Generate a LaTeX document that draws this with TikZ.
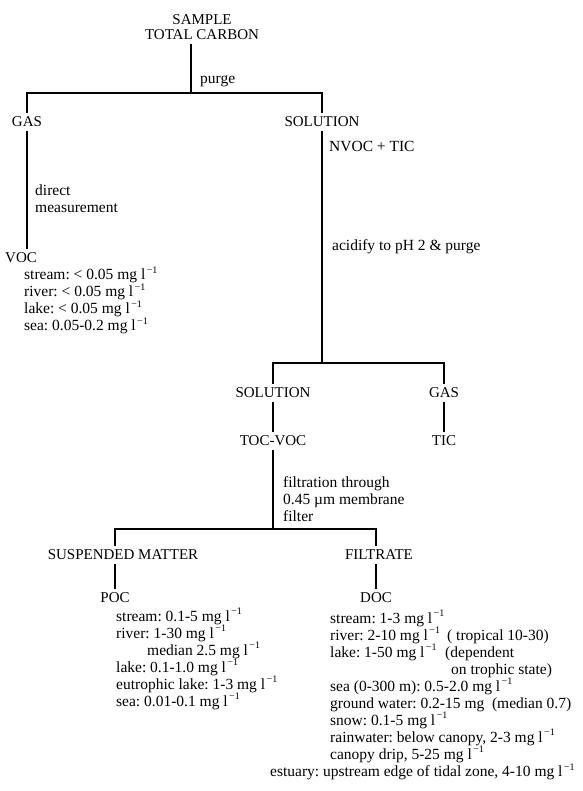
\documentclass[tikz,border=0pt]{standalone}
\usepackage{fontspec}
\setmainfont{Liberation Serif}
\usetikzlibrary{positioning}
\newcommand{\perlitre}{l\kern1.5pt\raisebox{0.85ex}{\fontsize{10}{10}\selectfont −1}}

\begin{document}
\frenchspacing
\begin{tikzpicture}[
  x=1pt, y=-1pt,
  every node/.style={font=\fontsize{15}{17}\selectfont},
  stage/.style={inner sep=4pt},
  note/.style={anchor=base west, inner sep=0pt, align=left, font=\fontsize{15.5}{17}\selectfont},
  tree/.style={line width=1.2pt}
]
\useasboundingbox (0,0) rectangle (582,791);

\node[stage, align=center, font=\fontsize{15}{15}\selectfont] (sample) at (202,27) {SAMPLE\\TOTAL CARBON};
\coordinate (split1) at (191,93);
\node[note] (purge) at (200,83.5) {purge};
\node[stage] (gas) at (27,122) {GAS};
\node[stage] (sol) at (322,122) {SOLUTION};
\node[note, anchor=west] (nvoc) at (329,146) {NVOC + TIC};
\node[note] (direct) at (35,212.5) {direct\\measurement};
\node[stage, anchor=west] (voc) at (1,258) {VOC};
\node[note] (voclist) at (24,330.5) {stream: < 0.05 mg \perlitre\\river: < 0.05 mg \perlitre\\lake: < 0.05 mg \perlitre\\sea: 0.05-0.2 mg \perlitre};
\node[note] (acid) at (332,250.5) {acidify to pH 2 \& purge};
\coordinate (split2) at (322,363);
\node[stage] (sol2) at (273,393) {SOLUTION};
\node[stage] (gas2) at (444,393) {GAS};
\node[stage] (tocvoc) at (273,441) {TOC-VOC};
\node[stage] (tic) at (444,441) {TIC};
\node[note] (filtr) at (283,521.5) {filtration through\\0.45 µm membrane\\filter};
\coordinate (split3) at (273,529);
\node[stage] (susp) at (123,555) {SUSPENDED MATTER};
\node[stage] (filt) at (379,555) {FILTRATE};
\node[stage] (poc) at (115,598) {POC};
\node[stage] (doc) at (376,598) {DOC};
\node[note] (poclist) at (116,706) {stream: 0.1-5 mg \perlitre\\river: 1-30 mg \perlitre\\\hspace*{31pt}median 2.5 mg \perlitre\\lake: 0.1-1.0 mg \perlitre\\eutrophic lake: 1-3 mg \perlitre\\sea: 0.01-0.1 mg \perlitre};
\node[note] (doclist) at (330,759) {stream: 1-3 mg \perlitre\\
  \makebox[117pt][l]{river: 2-10 mg \perlitre}( tropical 10-30)\\
  \makebox[115pt][l]{lake: 1-50 mg \perlitre}(dependent\\
  \hspace*{121pt}on trophic state)\\
  sea (0-300 m): 0.5-2.0 mg \perlitre\\
  ground water: 0.2-15 mg\ \ (median 0.7)\\
  snow: 0.1-5 mg \perlitre\\
  rainwater: below canopy, 2-3 mg \perlitre\\
  canopy drip, 5-25 mg \perlitre};
\node[note] (estuary) at (270,776.5) {estuary: upstream edge of tidal zone, 4-10 mg \perlitre};

\draw[tree] (sample.south -| split1) -- (split1);
\draw[tree] (gas) |- (split1) -| (sol);
\draw[tree] (gas.south) -- (gas.south |- voc.north);
\draw[tree] (sol) -- (split2);
\draw[tree] (sol2) |- (split2) -| (gas2);
\draw[tree] (sol2) -- (tocvoc);
\draw[tree] (gas2) -- (tic);
\draw[tree] (tocvoc) -- (split3);
\draw[tree] (split3) -| (susp.north -| poc);
\draw[tree] (susp.south -| poc) -- (poc);
\draw[tree] (split3) -| (filt.north -| doc);
\draw[tree] (filt.south -| doc) -- (doc);
\end{tikzpicture}
\end{document}
